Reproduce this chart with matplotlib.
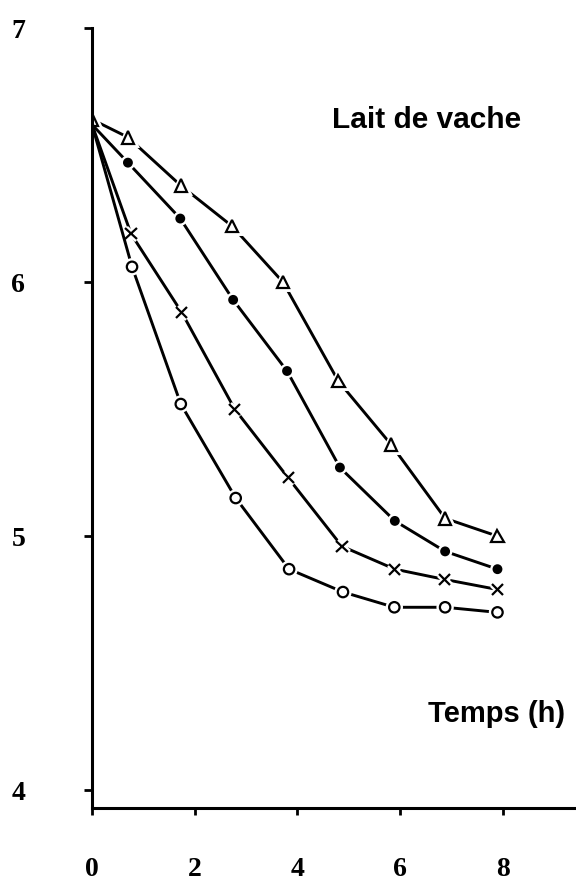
import matplotlib
matplotlib.use('Agg')
import matplotlib.pyplot as plt
import matplotlib.patheffects as pe

# temps (h) et valeurs
t_tri = [0, 0.7, 1.73, 2.73, 3.72, 4.8, 5.83, 6.88, 7.9]
y_tri = [6.64, 6.57, 6.38, 6.22, 6.0, 5.61, 5.36, 5.07, 5.0]

t_dot = [0, 0.7, 1.72, 2.75, 3.8, 4.83, 5.9, 6.88, 7.9]
y_dot = [6.62, 6.47, 6.25, 5.93, 5.65, 5.27, 5.06, 4.94, 4.87]

t_x = [0, 0.76, 1.75, 2.78, 3.82, 4.87, 5.9, 6.86, 7.9]
y_x = [6.62, 6.19, 5.88, 5.50, 5.23, 4.96, 4.87, 4.83, 4.79]

t_o = [0, 0.78, 1.73, 2.8, 3.84, 4.89, 5.89, 6.88, 7.9]
y_o = [6.62, 6.06, 5.52, 5.15, 4.87, 4.78, 4.72, 4.72, 4.70]

x_ticks = [0, 2, 4, 6, 8]
y_ticks = [4, 5, 6, 7]

W, H = 576, 883
fig = plt.figure(figsize=(W / 100, H / 100), dpi=100)
ax = fig.add_axes([92 / W, 75 / H, 1 - 92 / W, 780 / H])

halo = [pe.Stroke(linewidth=5, foreground='white'), pe.Normal()]
series = [
    (t_tri, y_tri, '^', 'white', 9),
    (t_dot, y_dot, 'o', 'black', 5.5),
    (t_x, y_x, 'x', 'black', 8),
    (t_o, y_o, 'o', 'white', 7.5),
]
for t, y, m, fc, ms in series:
    ax.plot(t, y, color='black', lw=2.1, solid_capstyle='round')
    start = 0 if m == '^' else 1
    ax.plot(t[start:], y[start:], ls='none', marker=m, ms=ms, mfc=fc,
            mec='black', mew=1.6, path_effects=halo)

ax.set_xlim(0, 9.43)
ax.set_ylim(3.93, 7.0)
for side in ['top', 'right']:
    ax.spines[side].set_visible(False)
for side in ['left', 'bottom']:
    ax.spines[side].set_linewidth(2.2)

ax.set_xticks(x_ticks)
ax.set_yticks(y_ticks)
ax.tick_params(axis='x', length=5, width=2, direction='out', pad=30)
ax.tick_params(axis='y', length=6, width=2, direction='out', pad=42)
for lab in ax.get_xticklabels() + ax.get_yticklabels():
    lab.set_fontfamily('Liberation Serif')
    lab.set_fontweight('bold')
    lab.set_fontsize(20)

fig.text(332 / W, 1 - 128 / H, 'Lait de vache', fontsize=21.5,
         family='Liberation Sans', fontweight='bold', ha='left', va='baseline')
fig.text(428 / W, 1 - 722 / H, 'Temps (h)', fontsize=21,
         family='Liberation Sans', fontweight='bold', ha='left', va='baseline')

fig.savefig('out.png', dpi=100)
